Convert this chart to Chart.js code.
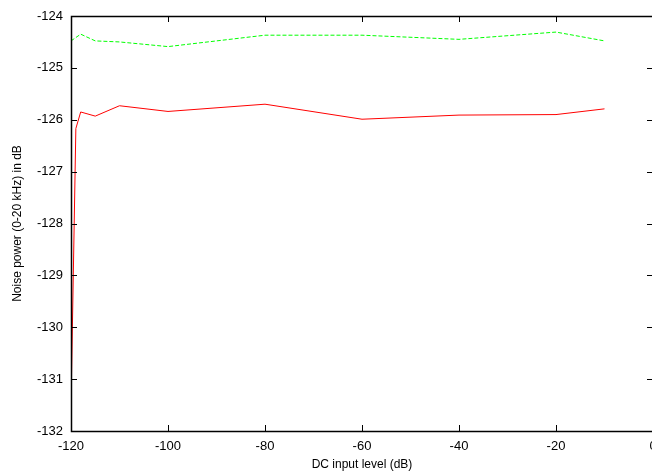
<!DOCTYPE html>
<html>
<head>
<meta charset="utf-8">
<script src="https://cdn.jsdelivr.net/npm/chart.js@4/dist/chart.umd.min.js"></script>
<style>
html,body{margin:0;padding:0;background:#fff;overflow:hidden;width:652px;height:472px;}
canvas{display:block;}
</style>
</head>
<body>
<canvas id="c" width="660" height="472"></canvas>
<script>
const xTickValues = [-120, -100, -80, -60, -40, -20, 0];
const yTickValues = [-132, -131, -130, -129, -128, -127, -126, -125, -124];

const redX = [-120, -119, -118, -115, -110, -100, -80, -60, -40, -20, -10];
const redY = [-131.52, -126.17, -125.85, -125.93, -125.73, -125.84, -125.70, -125.99, -125.91, -125.90, -125.79];

const greenX = [-120, -118, -115, -110, -100, -80, -60, -40, -20, -10];
const greenY = [-124.48, -124.35, -124.48, -124.50, -124.59, -124.37, -124.37, -124.45, -124.31, -124.48];

const xTitle = 'DC input level (dB)';
const yTitle = 'Noise power (0-20 kHz) in dB';

const FONT = '"Liberation Sans", Arial, sans-serif';

const toPts = (xs, ys) => xs.map((x, i) => ({x: x, y: ys[i]}));

const frameTicks = {
  id: 'frameTicks',
  afterDatasetsDraw(chart) {
    const ctx = chart.ctx;
    const a = chart.chartArea;
    const xs = chart.scales.x, ys = chart.scales.y;
    const L = 6;
    ctx.save();
    ctx.strokeStyle = '#000';
    ctx.lineWidth = 1;
    ctx.beginPath();
    xs.ticks.forEach(t => {
      const p = Math.round(xs.getPixelForValue(t.value)) + 0.5;
      ctx.moveTo(p, a.bottom); ctx.lineTo(p, a.bottom - L);
      ctx.moveTo(p, a.top); ctx.lineTo(p, a.top + L);
    });
    ys.ticks.forEach(t => {
      const p = Math.round(ys.getPixelForValue(t.value)) + 0.5;
      ctx.moveTo(a.left, p); ctx.lineTo(a.left + L, p);
      ctx.moveTo(a.right, p); ctx.lineTo(a.right - L, p);
    });
    ctx.stroke();
    ctx.lineWidth = 1.5;
    ctx.strokeRect(Math.round(a.left) + 0.5, Math.round(a.top) + 0.5,
                   Math.round(a.right - a.left), Math.round(a.bottom - a.top));
    ctx.restore();
  }
};

new Chart(document.getElementById('c'), {
  type: 'line',
  data: {
    datasets: [
      {
        data: toPts(redX, redY),
        borderColor: '#ff0000',
        borderWidth: 1,
        pointRadius: 0,
        tension: 0,
        fill: false
      },
      {
        data: toPts(greenX, greenY),
        borderColor: '#00ff00',
        borderWidth: 1,
        borderDash: [4, 2],
        pointRadius: 0,
        tension: 0,
        fill: false
      }
    ]
  },
  options: {
    responsive: false,
    animation: false,
    devicePixelRatio: 1,
    layout: {padding: {top: 16, right: 7, left: 0, bottom: 0}},
    plugins: {legend: {display: false}, tooltip: {enabled: false}},
    scales: {
      x: {
        type: 'linear',
        min: -120, max: 0,
        afterBuildTicks: s => { s.ticks = xTickValues.map(v => ({value: v})); },
        afterFit: s => { s.height = 41; s.paddingLeft = 0; s.paddingRight = 0; },
        grid: {display: false, drawTicks: false},
        border: {display: false},
        ticks: {color: '#000', font: {family: FONT, size: 13}, padding: 8, maxRotation: 0, autoSkip: false},
        title: {display: true, text: xTitle, color: '#000', font: {family: FONT, size: 12}, padding: {top: 1, bottom: 0}}
      },
      y: {
        type: 'linear',
        min: -132, max: -124,
        afterBuildTicks: s => { s.ticks = yTickValues.map(v => ({value: v})); },
        afterFit: s => { s.width = 71; s.paddingTop = 0; s.paddingBottom = 0; },
        grid: {display: false, drawTicks: false},
        border: {display: false},
        ticks: {color: '#000', font: {family: FONT, size: 13}, padding: 8, autoSkip: false},
        title: {display: true, text: yTitle, color: '#000', font: {family: FONT, size: 12}, padding: {top: 10, bottom: 4}}
      }
    }
  },
  plugins: [frameTicks]
});
</script>
</body>
</html>
